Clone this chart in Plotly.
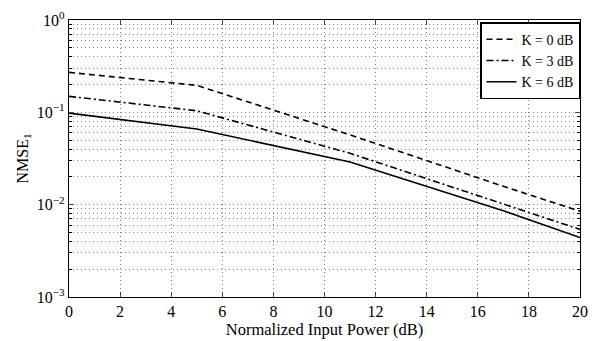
import plotly.graph_objects as go

power_db = [0, 5, 11, 17, 20]
nmse_k0 = [0.271, 0.196, 0.057, 0.0158, 0.0085]
nmse_k3 = [0.149, 0.104, 0.036, 0.0101, 0.0054]
nmse_k6 = [0.098, 0.066, 0.029, 0.0086, 0.0044]
series_names = ["K = 0 dB", "K = 3 dB", "K = 6 dB"]
x_ticks = list(range(0, 21, 2))
y_tick_vals = [1e-3, 1e-2, 1e-1, 1e0]
y_tick_text = ["10<sup>−3</sup>", "10<sup>−2</sup>", "10<sup>−1</sup>", "10<sup>0</sup>"]

minor_vals = [m * 10 ** e for e in (-3, -2, -1) for m in range(2, 10)]

font = "Liberation Serif, Times New Roman, serif"

fig = go.Figure()
styles = ["6px,4px", "7px,3px,2px,3px", "solid"]
for name, ys, dash in zip(series_names, [nmse_k0, nmse_k3, nmse_k6], styles):
    fig.add_trace(go.Scatter(x=power_db, y=ys, mode="lines", name=name,
                             line=dict(color="black", width=1.6, dash=dash)))

grid_col = "rgba(120,120,120,0.9)"
grid_dash = "1px,3px"
fig.update_layout(
    width=597, height=341,
    margin=dict(l=69, r=9, t=16, b=39),
    paper_bgcolor="white", plot_bgcolor="white",
    font=dict(family=font, size=15, color="black"),
    showlegend=True,
    legend=dict(x=1.0, y=0.992, xanchor="right", yanchor="top",
                bgcolor="white", bordercolor="black", borderwidth=1.5,
                font=dict(size=14, family=font), tracegroupgap=0,
                itemwidth=30),
    xaxis=dict(range=[0, 20], tickvals=x_ticks, ticks="inside", ticklen=5,
               showline=True, linecolor="black", linewidth=1.2, mirror="allticks",
               showgrid=True, gridcolor=grid_col, griddash=grid_dash, gridwidth=1,
               zeroline=False,
               title=dict(text="Normalized Input Power (dB)", standoff=0,
                          font=dict(size=16.5)),
               tickfont=dict(size=16)),
    yaxis=dict(type="log", range=[-3, 0], tickvals=y_tick_vals, ticktext=y_tick_text,
               ticks="inside", ticklen=5,
               showline=True, linecolor="black", linewidth=1.2, mirror="allticks",
               showgrid=True, gridcolor=grid_col, griddash=grid_dash, gridwidth=1,
               zeroline=False,
               minor=dict(tickvals=minor_vals, ticks="inside", ticklen=3,
                          showgrid=True, gridcolor=grid_col, griddash=grid_dash,
                          gridwidth=1, tickcolor="black"),
               title=dict(text="NMSE<sub>1</sub>", standoff=4, font=dict(size=16)),
               tickfont=dict(size=16)),
)

fig.write_html("out.html", config={"displayModeBar": False},
               post_script="document.body.style.margin='0';document.body.style.overflow='hidden';")
